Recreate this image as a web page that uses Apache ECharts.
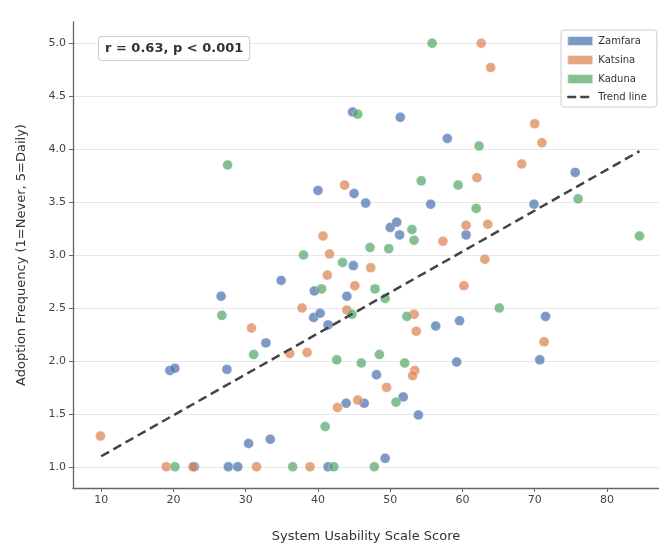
<!DOCTYPE html>
<html>
<head>
<meta charset="utf-8">
<script src="https://cdn.jsdelivr.net/npm/echarts@6/dist/echarts.min.js"></script>
<style>
html,body{margin:0;padding:0;background:#fff}
#chart{width:659px;height:548px}
</style>
</head>
<body>
<div id="chart"></div>
<script>
// SUS score vs adoption frequency, one array per state
var zamfara = [
  [51.4,4.30],[57.9,4.10],[40.0,3.61],[45.0,3.58],[75.6,3.78],[44.8,4.35],
  [34.9,2.76],[26.6,2.61],[32.8,2.17],[46.6,3.49],[55.6,3.48],[50.0,3.26],
  [50.9,3.31],[51.3,3.19],[60.5,3.19],[44.9,2.90],[39.5,2.66],[44.0,2.61],
  [39.4,2.41],[40.3,2.45],[41.4,2.34],[56.3,2.33],[59.6,2.38],[69.9,3.48],
  [71.5,2.42],[19.5,1.91],[20.2,1.93],[27.4,1.92],[27.6,1.0],[28.9,1.0],
  [30.4,1.22],[33.4,1.26],[48.1,1.87],[59.2,1.99],[43.9,1.60],[46.4,1.60],
  [51.8,1.66],[53.9,1.49],[49.3,1.08],[41.4,1.0],[70.7,2.01],[22.9,1.0]
];
var katsina = [
  [62.6,5.0],[63.9,4.77],[70.0,4.24],[71.0,4.06],[68.2,3.86],[62.0,3.73],
  [43.7,3.66],[57.3,3.13],[60.5,3.28],[63.5,3.29],[40.7,3.18],[41.6,3.01],
  [47.3,2.88],[41.3,2.81],[45.1,2.71],[60.2,2.71],[37.8,2.50],[44.0,2.48],
  [53.3,2.44],[53.6,2.28],[63.1,2.96],[71.3,2.18],[30.8,2.31],[9.9,1.29],
  [19.0,1.0],[22.7,1.0],[31.5,1.0],[36.1,2.07],[38.5,2.08],[49.5,1.75],
  [53.4,1.91],[53.1,1.86],[42.7,1.56],[45.5,1.63],[38.9,1.0]
];
var kaduna = [
  [27.5,3.85],[55.8,5.0],[45.5,4.33],[62.3,4.03],[54.3,3.70],[59.4,3.66],
  [76.0,3.53],[61.9,3.44],[53.0,3.24],[53.3,3.14],[38.0,3.00],[47.2,3.07],
  [49.8,3.06],[43.4,2.93],[40.5,2.68],[47.9,2.68],[49.3,2.59],[44.7,2.44],
  [52.3,2.42],[84.5,3.18],[65.1,2.50],[26.7,2.43],[31.1,2.06],[20.2,1.0],
  [42.6,2.01],[46.0,1.98],[48.5,2.06],[52.0,1.98],[50.8,1.61],[41.0,1.38],
  [36.5,1.0],[42.2,1.0],[47.8,1.0]
];
var trend = [[10,1.10],[84.5,3.98]];

var names = ['Zamfara','Katsina','Kaduna'];
var colors = ['#4c72b0','#dd8452','#55a868'];
var xRange = [6.1, 87.2];
var yRange = [0.8, 5.2];
var statText = 'r = 0.63, p < 0.001';

var myChart = echarts.init(document.getElementById('chart'));

function scat(name, data, color){
  return {
    name: name,
    type: 'scatter',
    data: data,
    symbolSize: 10,
    itemStyle: {color: color, opacity: 0.72, borderColor: '#fff', borderWidth: 0.5},
    emphasis: {disabled: true}
  };
}

var option = {
  backgroundColor: '#fff',
  animation: false,
  textStyle: {fontFamily: 'DejaVu Sans'},
  grid: {left: 73, right: 0, top: 22, bottom: 60},
  legend: {
    orient: 'vertical',
    left: 561, top: 30,
    itemWidth: 26, itemHeight: 10, itemGap: 7,
    backgroundColor: '#fff',
    borderColor: '#ccc', borderWidth: 1, borderRadius: 3,
    padding: [5, 10, 5, 5],
    textStyle: {fontSize: 10, color: '#333'},
    data: [
      {name: 'Zamfara', icon: 'rect'},
      {name: 'Katsina', icon: 'rect'},
      {name: 'Kaduna', icon: 'rect'},
      {name: 'Trend line', itemStyle: {opacity: 0},
        lineStyle: {color: '#444', width: 2.5, type: [9, 4]}}
    ]
  },
  xAxis: {
    type: 'value',
    min: xRange[0], max: xRange[1],
    splitNumber: 8,
    name: 'System Usability Scale Score',
    nameLocation: 'middle', nameGap: 42,
    nameTextStyle: {fontSize: 13, color: '#333'},
    axisLine: {lineStyle: {color: '#666', width: 1.3}},
    axisTick: {show: true, length: 4, lineStyle: {color: '#666'}},
    axisLabel: {fontSize: 11, color: '#444', margin: 7, showMinLabel: false, showMaxLabel: false},
    splitLine: {show: false}
  },
  yAxis: {
    type: 'value',
    min: yRange[0], max: yRange[1],
    splitNumber: 9,
    name: 'Adoption Frequency (1=Never, 5=Daily)',
    nameLocation: 'middle', nameGap: 45,
    nameTextStyle: {fontSize: 13, color: '#333'},
    axisLine: {show: true, lineStyle: {color: '#666', width: 1.3}},
    axisTick: {show: true, length: 4, lineStyle: {color: '#666'}},
    axisLabel: {fontSize: 11, color: '#444', margin: 7, showMinLabel: false, showMaxLabel: false,
      formatter: function(v){ return v.toFixed(1); }},
    splitLine: {show: true, showMinLine: false, showMaxLine: false, lineStyle: {color: '#e8e8e8', width: 1}}
  },
  graphic: [{
    type: 'text',
    left: 98, top: 36,
    style: {
      text: statText,
      font: 'bold 13px "DejaVu Sans"',
      fill: '#333',
      backgroundColor: '#fff',
      borderColor: '#ccc', borderWidth: 1, borderRadius: 3,
      padding: [5, 6, 5, 6]
    },
    z: 10
  }],
  series: [
    scat(names[0], zamfara, colors[0]),
    scat(names[1], katsina, colors[1]),
    scat(names[2], kaduna, colors[2]),
    {
      name: 'Trend line',
      type: 'line',
      data: trend,
      symbol: 'none',
      lineStyle: {color: '#444', width: 2.5, type: [9, 5]},
      itemStyle: {color: '#444'},
      z: 5
    }
  ]
};
myChart.setOption(option);
</script>
</body>
</html>
